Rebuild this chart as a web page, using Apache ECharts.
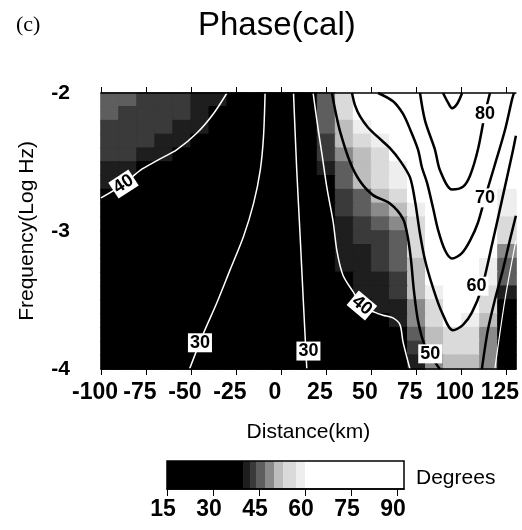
<!DOCTYPE html>
<html>
<head>
<meta charset="utf-8">
<title>Phase(cal)</title>
<script src="https://cdn.jsdelivr.net/npm/echarts@6/dist/echarts.min.js"></script>
<style>
  html, body { margin: 0; padding: 0; background: #fff; }
  #chart { width: 522px; height: 530px; }
</style>
</head>
<body>
<div id="chart"></div>
<script>
// centre of each 10 km column and each 0.1 decade row (top row first)
var distCells = [-95, -85, -75, -65, -55, -45, -35, -25, -15, -5, 5, 15, 25, 35, 45, 55, 65, 75, 85, 95, 105, 115, 125];
var freqRows = [-2.05, -2.15, -2.25, -2.35, -2.45, -2.55, -2.65, -2.75, -2.85, -2.95,
                -3.05, -3.15, -3.25, -3.35, -3.45, -3.55, -3.65, -3.75, -3.85, -3.95];

// phase in degrees, one row per freqRows entry, one value per distCells entry
var phaseRows = [
  [44, 44, 43, 43, 42, 41, 40.5, 33, 31, 28, 29, 36, 46, 55, 63, 65, 72, 77, 84, 91, 85, 81, 74],
  [44, 43, 43, 42, 42, 41, 39, 33, 31, 28, 28, 36, 45, 54, 61, 64, 68, 74, 83, 86, 84, 77, 71],
  [43, 43, 42, 42, 41, 40.2, 38, 33, 31, 27, 28, 37, 44, 52, 58, 62, 66, 72, 81, 84, 82, 76, 70],
  [43, 42, 42, 41, 40.3, 38, 37, 33, 31, 27, 28, 37, 43, 50.5, 55, 59, 64, 70.5, 80.5, 83, 81, 74, 67],
  [42, 42, 41, 40.3, 38, 37, 36, 32, 30.5, 27, 28, 37, 42, 48, 52, 56, 60.5, 68, 78, 82, 81, 73, 65],
  [41, 40.5, 39, 38, 37, 36, 35, 32, 30.5, 27, 28, 36, 40.5, 46, 51, 54, 58, 66, 76, 81, 80.2, 71, 63],
  [40.5, 39, 38, 37, 36, 35, 34, 32, 30.5, 27, 28, 35, 39, 44, 50.3, 53, 57, 63, 73, 80.5, 76, 70.5, 60],
  [39, 38, 37, 36, 35, 34, 33, 32, 30.2, 27, 28, 35, 39, 43, 46, 50.5, 55, 60.5, 71, 78, 74, 68, 58],
  [38, 37, 36, 35, 35, 34, 33, 31, 29.5, 26, 27, 34, 38, 42, 44, 47, 50.5, 58, 70.2, 76, 73, 67, 57],
  [38, 37, 36, 35, 34, 33, 32, 31, 29, 25, 27, 34, 37, 41, 43, 45, 48, 56, 68, 74, 71, 65, 56],
  [37, 36, 36, 35, 34, 33, 32, 30.5, 28, 25, 27, 34, 37, 41, 42, 43, 46, 55, 66, 72, 70.3, 64, 55],
  [37, 36, 35, 34, 34, 33, 31, 30.3, 28, 25, 26, 33, 36, 40.5, 41, 42, 45, 54, 64, 70.5, 68, 60.5, 49],
  [37, 36, 35, 34, 33, 32, 31, 29, 27, 24, 26, 33, 36, 40.5, 41, 42, 44, 52, 62, 67, 65, 59.5, 46],
  [36, 35, 35, 34, 33, 32, 30.5, 28, 27, 24, 25, 33, 35, 39.5, 41, 41, 43, 51, 61, 65, 63, 58, 44],
  [36, 35, 34, 33, 33, 32, 30.3, 28, 26, 24, 25, 32, 34, 38, 40.5, 41, 42, 50.5, 58, 62, 61, 56, 40.5],
  [35, 35, 34, 33, 32, 31, 29.5, 27, 26, 23, 25, 32, 34, 36, 39.5, 40.5, 41, 49.5, 56, 60.5, 60.2, 54, 39.5],
  [35, 34, 33, 33, 32, 30.5, 29, 27, 25, 23, 24, 31, 33, 34, 36, 37, 40.3, 47, 54, 60.5, 58, 51, 38],
  [34, 34, 33, 32, 31, 30.2, 28, 26, 25, 23, 24, 31, 32, 33, 35, 36, 37, 44, 52, 56, 55, 49.5, 37],
  [34, 33, 32, 31, 30.5, 29.8, 28, 26, 25, 23, 24, 30.5, 32, 33, 34, 35, 36, 43, 51, 54, 53, 48, 36],
  [33, 33, 32, 31, 30.3, 29.5, 28, 26, 25, 23, 24, 30.2, 32, 33, 34, 35, 36, 41, 49, 52, 52, 47, 36]
];

var distTicks = [-100, -75, -50, -25, 0, 25, 50, 75, 100, 125];
var degreeTicks = [15, 30, 45, 60, 75, 90];

// contour traces: [distance km, log10 frequency]
var c30West = [[-8.8, -2], [-9.7, -2.32], [-11.5, -2.56], [-15.2, -2.8], [-20.8, -3.04], [-28.2, -3.28], [-35.6, -3.52], [-43, -3.74], [-50.8, -4]];
var c30East = [[7, -2], [8.8, -2.56], [10.7, -3.04], [12.5, -3.52], [14.4, -4]];
var c40West = [[-30, -2], [-37.5, -2.15], [-46.7, -2.29], [-57.8, -2.41], [-68.9, -2.49], [-78.2, -2.56], [-87.4, -2.66], [-100, -2.76]];
var c40East = [[17.9, -2], [20.1, -2.21], [22.9, -2.45], [25.6, -2.69], [29, -2.93], [31.2, -3.15], [34.5, -3.32], [40.1, -3.44],
               [45.1, -3.54], [52.3, -3.59], [56.7, -3.61], [62.3, -3.63], [66.2, -3.68], [67.8, -3.8], [70.1, -3.92], [71.7, -4]];
var c40Corner = [[130.6, -3.07], [124.5, -3.5], [118.9, -4]];
var c50West = [[28.4, -2], [30.1, -2.12], [32.9, -2.28], [38.4, -2.5], [44, -2.64], [51.2, -2.74], [60.6, -2.8], [67.8, -2.91],
               [70.6, -3.05], [72.3, -3.21], [73.9, -3.43], [76.2, -3.65], [80, -3.83], [86.7, -3.97], [88.4, -4]];
var c50East = [[111.7, -4], [115, -3.72], [118.9, -3.5], [123.4, -3.28], [127.2, -3.07], [130.6, -2.89]];
var c60 = [[39.5, -2], [41.2, -2.09], [44, -2.17], [48.4, -2.25], [54, -2.32], [60.6, -2.4], [66.2, -2.49], [71.7, -2.61],
           [74.5, -2.78], [77.3, -3.02], [80.1, -3.21], [84.5, -3.41], [89.5, -3.59], [95.6, -3.72], [101.2, -3.68],
           [106.2, -3.59], [111.7, -3.41], [117.3, -3.1], [122.8, -2.78], [128.9, -2.42], [130.6, -2.31]];
var c70 = [[54, -2], [62.3, -2.06], [67.8, -2.15], [71.7, -2.26], [76.2, -2.41], [78.4, -2.54], [81.2, -2.65], [84.5, -2.83],
           [87.3, -2.99], [91.2, -3.14], [95.1, -3.2], [100.6, -3.16], [105.1, -3.07], [109.5, -2.94], [113.4, -2.76],
           [118.9, -2.52], [124.5, -2.27], [128.4, -2.05], [129.5, -2]];
var c80 = [[77.3, -2], [80.1, -2.2], [85.6, -2.41], [88.4, -2.56], [95.1, -2.7], [101.2, -2.68], [105.1, -2.6], [109.5, -2.41], [113.4, -2.15], [116.2, -2]];
var c90 = [[90.1, -2], [92.9, -2.07], [95.1, -2.11], [97.9, -2.08], [100.7, -2]];

var contourLabels = [[-87.5, -2.66, '40'], [-45, -3.81, '30'], [15.3, -3.87, '30'], [45, -3.54, '40'],
                     [83, -3.89, '50'], [108.7, -3.4, '60'], [113.4, -2.76, '70'], [113.4, -2.15, '80']];
var labelTilt = [33, 0, 0, -40, 0, 0, 0, 0];

// grey shading of the map and of the colour bar
var shadeBands = [
  [0, 40, '#000000'], [40, 42, '#1e1e1e'], [42, 44, '#3a3a3a'], [44, 47, '#5e5e5e'],
  [47, 50, '#8a8a8a'], [50, 53, '#bdbdbd'], [53, 57, '#dadada'], [57, 60, '#eeeeee'], [60, 100, '#ffffff']
];

function shadeOf(v) {
  for (var i = 0; i < shadeBands.length; i++) {
    if (v >= shadeBands[i][0] && v < shadeBands[i][1]) return shadeBands[i][2];
  }
  return '#ffffff';
}

// cell edges get the cell's own grey so no hairline seams show between cells
var heatData = [];
phaseRows.forEach(function (row, r) {
  row.forEach(function (v, c) {
    heatData.push({
      value: [c, freqRows.length - 1 - r, v],
      itemStyle: {borderColor: shadeOf(v), borderWidth: 1}
    });
  });
});

var barMin = 15, barMax = 92.3;
var barStops = [];
shadeBands.forEach(function (b) {
  var lo = Math.max(b[0], barMin), hi = Math.min(b[1], barMax);
  if (hi <= lo) return;
  barStops.push({offset: (lo - barMin) / (barMax - barMin), color: b[2]});
  barStops.push({offset: (hi - barMin) / (barMax - barMin), color: b[2]});
});

function contour(pts, color, width) {
  return {
    type: 'line', xAxisIndex: 1, yAxisIndex: 1, data: pts,
    symbol: 'none', smooth: 0.3, silent: true, z: 3,
    lineStyle: {color: color, width: width}
  };
}

var myChart = echarts.init(document.getElementById('chart'));
var font = 'Liberation Sans, Arial, sans-serif';
var plot = {left: 101, top: 93, width: 415, height: 276};

var option = {
  animation: false,
  textStyle: {fontFamily: font, color: '#000'},
  title: [
    {text: 'Phase(cal)', left: 193, top: 4, textStyle: {fontSize: 33, fontWeight: 'normal', fontFamily: font, color: '#000'}},
    {text: '(c)', left: 11, top: 9, textStyle: {fontSize: 22, fontWeight: 'normal', fontFamily: 'Liberation Serif, serif', color: '#000'}},
    {text: 'Degrees', left: 411, top: 463, textStyle: {fontSize: 21, fontWeight: 'normal', fontFamily: font, color: '#000'}}
  ],
  visualMap: {
    type: 'piecewise', show: false, seriesIndex: 0, dimension: 2,
    pieces: shadeBands.map(function (b) { return {gte: b[0], lt: b[1], color: b[2]}; })
  },
  grid: [
    {left: plot.left, top: plot.top, width: plot.width, height: plot.height},
    {left: plot.left, top: plot.top, width: plot.width, height: plot.height},
    {left: 167, top: 461, width: 237, height: 28, show: true, borderColor: '#000', borderWidth: 1.5,
     backgroundColor: new echarts.graphic.LinearGradient(0, 0, 1, 0, barStops)}
  ],
  xAxis: [
    {type: 'category', gridIndex: 0, data: distCells.map(String), show: false},
    {type: 'value', gridIndex: 1, position: 'bottom', min: -100, max: 130.6, z: 10,
     axisLine: {lineStyle: {color: '#000', width: 1.5}},
     axisTick: {customValues: distTicks, length: 6, lineStyle: {color: '#000'}},
     axisLabel: {customValues: distTicks, fontSize: 23, fontWeight: 'bold', color: '#000', margin: 12, padding: [0, 12, 0, 0]},
     splitLine: {show: false},
     name: 'Distance(km)', nameLocation: 'middle', nameGap: 53,
     nameTextStyle: {fontSize: 21, color: '#000'}},
    {type: 'value', gridIndex: 1, position: 'top', min: -100, max: 130.6, z: 10,
     axisLine: {lineStyle: {color: '#000', width: 1.5}},
     axisTick: {customValues: distTicks, length: 6, lineStyle: {color: '#000'}},
     axisLabel: {show: false}, splitLine: {show: false}},
    {type: 'value', gridIndex: 2, position: 'bottom', min: barMin, max: barMax, z: 10,
     axisLine: {lineStyle: {color: '#000', width: 1.5}},
     axisTick: {customValues: degreeTicks, length: 7, lineStyle: {color: '#000'}},
     axisLabel: {customValues: degreeTicks, fontSize: 23, fontWeight: 'bold', color: '#000', margin: 9, padding: [0, 8, 0, 0]},
     splitLine: {show: false}}
  ],
  yAxis: [
    {type: 'category', gridIndex: 0, data: freqRows.slice().reverse().map(String), show: false},
    {type: 'value', gridIndex: 1, position: 'left', min: -4, max: -2, interval: 1, z: 10,
     axisLine: {lineStyle: {color: '#000', width: 1.5}},
     axisTick: {length: 8, lineStyle: {color: '#000'}},
     axisLabel: {fontSize: 21, fontWeight: 'bold', color: '#000', margin: 31},
     splitLine: {show: false},
     name: 'Frequency(Log Hz)', nameLocation: 'middle', nameGap: 63, nameRotate: 90,
     nameTextStyle: {fontSize: 21, color: '#000'}},
    {type: 'value', gridIndex: 1, position: 'right', min: -4, max: -2, interval: 1, z: 10,
     axisLine: {lineStyle: {color: '#000', width: 1.5}},
     axisTick: {length: 6, lineStyle: {color: '#000'}},
     axisLabel: {show: false}, splitLine: {show: false}},
    {type: 'value', gridIndex: 2, min: 0, max: 1, show: false}
  ],
  series: [
    {type: 'heatmap', xAxisIndex: 0, yAxisIndex: 0, data: heatData, silent: true, z: 1,
     emphasis: {disabled: true}},
    contour(c30West, '#fff', 1.5),
    contour(c30East, '#fff', 1.5),
    contour(c40West, '#fff', 1.5),
    contour(c40East, '#fff', 1.5),
    contour(c40Corner, '#fff', 1.2),
    contour(c50West, '#000', 2.5),
    contour(c50East, '#000', 2.5),
    contour(c60, '#000', 2.5),
    contour(c70, '#000', 2.5),
    contour(c80, '#000', 2.5),
    contour(c90, '#000', 2.5),
    {type: 'scatter', xAxisIndex: 1, yAxisIndex: 1, silent: true, z: 5,
     symbolSize: 0.1, itemStyle: {color: '#fff'},
     data: contourLabels.map(function (d, i) {
       return {value: [d[0], d[1]], name: d[2], label: {rotate: labelTilt[i]}};
     }),
     label: {show: true, position: 'inside', formatter: '{b}', color: '#000', fontSize: 18, fontWeight: 'bold',
             textBorderWidth: 0, opacity: 1, backgroundColor: '#fff', padding: [1, 2, 0, 2]}}
  ]
};
myChart.setOption(option);
window.addEventListener('resize', function () {
  myChart.resize();
});
</script>
</body>
</html>
